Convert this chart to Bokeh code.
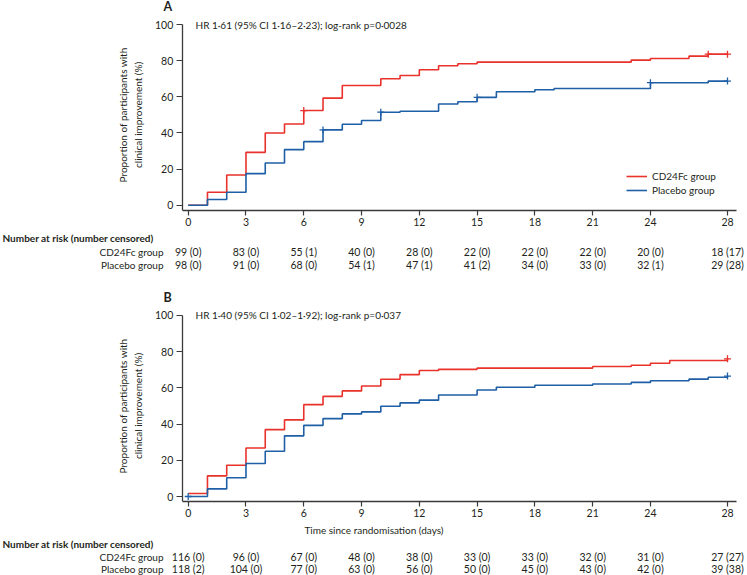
import numpy as np
from bokeh.plotting import figure
from bokeh.models import Range1d, FixedTicker
from bokeh.layouts import column
from bokeh.embed import file_html
from bokeh.resources import INLINE
from bokeh.core.properties import value

# ---------------- data ----------------
# Panel A : step curves (time in days, cumulative % with clinical improvement)
A_cd_t = [0, 1, 2, 3, 4, 5, 6, 7, 8, 10, 11, 12, 13, 14, 15, 23, 24, 26, 27, 28]
A_cd_y = [0, 7.2, 16.8, 29.3, 40.0, 45.0, 52.4, 59.3, 66.3, 70.0, 71.8, 75.0, 77.2, 78.3, 79.2, 80.3, 81.2, 82.5, 83.6, 83.6]
A_cd_cens = [6, 27, 28]
A_pl_t = [0, 1, 2, 3, 4, 5, 6, 7, 8, 9, 10, 11, 13, 14, 15, 16, 18, 19, 24, 27, 28]
A_pl_y = [0, 3.2, 7.2, 17.5, 23.4, 30.8, 35.2, 41.7, 44.8, 46.9, 51.5, 52.0, 56.0, 57.3, 59.7, 62.8, 63.9, 64.6, 67.8, 68.7, 68.7]
A_pl_cens = [7, 10, 15, 24, 28]

# Panel B
B_cd_t = [0, 1, 2, 3, 4, 5, 6, 7, 8, 9, 10, 11, 12, 13, 15, 21, 23, 24, 25, 28]
B_cd_y = [1.7, 11.4, 17.3, 26.8, 36.9, 42.3, 50.7, 55.3, 58.3, 61.0, 64.7, 67.3, 69.6, 70.2, 70.9, 71.8, 72.5, 73.6, 75.1, 76.0]
B_cd_cens = [28]
B_pl_t = [0, 1, 2, 3, 4, 5, 6, 7, 8, 9, 10, 11, 12, 13, 15, 16, 18, 21, 23, 24, 26, 27, 28]
B_pl_y = [0, 4.2, 10.4, 18.2, 25.0, 33.5, 39.3, 43.0, 45.6, 46.7, 49.8, 51.7, 53.2, 56.0, 58.8, 60.3, 61.4, 62.1, 63.0, 63.9, 64.8, 65.8, 66.5]
B_pl_cens = [0, 28]

# number-at-risk tables
x_ticks = [0, 3, 6, 9, 12, 15, 18, 21, 24, 28]
y_ticks = [0, 20, 40, 60, 80, 100]
A_cd_risk = ["99 (0)", "83 (0)", "55 (1)", "40 (0)", "28 (0)", "22 (0)", "22 (0)", "22 (0)", "20 (0)", "18 (17)"]
A_pl_risk = ["98 (0)", "91 (0)", "68 (0)", "54 (1)", "47 (1)", "41 (2)", "34 (0)", "33 (0)", "32 (1)", "29 (28)"]
B_cd_risk = ["116 (0)", "96 (0)", "67 (0)", "48 (0)", "38 (0)", "33 (0)", "33 (0)", "32 (0)", "31 (0)", "27 (27)"]
B_pl_risk = ["118 (2)", "104 (0)", "77 (0)", "63 (0)", "56 (0)", "50 (0)", "45 (0)", "43 (0)", "42 (0)", "39 (38)"]

A_stats = "HR 1·61 (95% CI 1·16–2·23); log-rank p=0·0028"
B_stats = "HR 1·40 (95% CI 1·02–1·92); log-rank p=0·037"
ylab1 = "Proportion of participants with"
ylab2 = "clinical improvement (%)"
xlab = "Time since randomisation (days)"
row_names = ["CD24Fc group", "Placebo group"]
nar_title = "Number at risk (number censored)"

# ---------------- style / geometry (pixels) ----------------
FONTNAME = "Lato"
FONT = value(FONTNAME)
FS = "10px"        # general text
FS_TICK = "10.5px"  # tick labels and table numbers
RED = "#e8322b"
BLUE = "#1f5fa6"
AXC = "#3a3a3a"
TXT = "#231f20"

W = 747
PX_T0 = 187.7                      # pixel of day 0
PPD = (727.0 - PX_T0) / 28.0       # pixels per day
TX0, TX1 = -PX_T0 / PPD, (W - PX_T0) / PPD
AX_X0, AX_X1 = -0.31, 28.45         # extent of x axis line


def px2t(px):
    return (px - PX_T0) / PPD


def step_at(ts, ys, t):
    ts = np.asarray(ts, float)
    idx = np.searchsorted(ts, t, side="right") - 1
    return np.asarray(ys, float)[idx]


def curve_fig(top, fbot, p0, p100, bottom, cd, pl, letter, stats, xlabel, legend):
    """top/fbot/p0/p100/bottom: page pixel rows of figure top, frame bottom,
    0 % line, 100 % line and figure bottom."""
    pxy = (p0 - p100) / 100.0
    ymin = -(fbot - p0) / pxy
    ytop = 100 + (p100 - top) / pxy
    py2y = lambda py: 100 + (p100 - py) / pxy
    p = figure(width=W, height=bottom - top, output_backend="svg", toolbar_location=None,
               x_range=Range1d(TX0, TX1), y_range=Range1d(ymin, ytop),
               min_border_left=0, min_border_right=0,
               min_border_top=0, min_border_bottom=bottom - fbot)
    p.outline_line_color = None
    p.xgrid.visible = False
    p.ygrid.visible = False
    for ax in (p.xaxis[0], p.yaxis[0]):
        ax.axis_line_color = AXC
        ax.axis_line_width = 1.3
        ax.major_tick_line_color = AXC
        ax.major_tick_line_width = 1.2
        ax.minor_tick_line_color = None
        ax.major_tick_in = 0
        ax.major_label_text_font = FONTNAME
        ax.major_label_text_font_size = FS_TICK
        ax.major_label_text_color = TXT
        ax.axis_label_text_font = FONTNAME
        ax.axis_label_text_font_size = FS
        ax.axis_label_text_font_style = "normal"
        ax.axis_label_text_color = TXT
    p.xaxis.ticker = FixedTicker(ticks=x_ticks)
    p.yaxis.ticker = FixedTicker(ticks=y_ticks)
    p.xaxis.bounds = (AX_X0, AX_X1)
    p.yaxis.bounds = (ymin, 100)
    p.yaxis.fixed_location = AX_X0
    p.xaxis.major_tick_out = 5
    p.yaxis.major_tick_out = 6
    p.xaxis.major_label_standoff = 2
    p.yaxis.major_label_standoff = 3
    if xlabel:
        p.xaxis.axis_label = xlabel
        p.xaxis.axis_label_standoff = 4

    # y axis title, two lines, rotated
    p.text(x=[px2t(122), px2t(137)], y=[50, 50], text=[ylab1, ylab2], angle=np.pi / 2,
           text_font=FONT, text_font_size=FS, text_color=TXT,
           text_align="center", text_baseline="middle")

    for (t, y, cens, col, name) in (cd + (RED, row_names[0]), pl + (BLUE, row_names[1])):
        kw = dict(legend_label=name) if legend else {}
        p.step(t, y, mode="after", line_color=col, line_width=1.6, **kw)
        cy = step_at(t, y, cens)
        p.scatter(cens, cy, marker="cross", size=7, line_color=col, line_width=1.3)

    if legend:
        lg = p.legend[0]
        lg.location = (626, 13)
        lg.border_line_color = None
        lg.background_fill_alpha = 0
        lg.padding = 0
        lg.margin = 0
        lg.spacing = 0
        lg.glyph_width = 21
        lg.glyph_height = 14
        lg.label_height = 14
        lg.label_standoff = 5
        lg.label_text_font = FONTNAME
        lg.label_text_font_size = FS
        lg.label_text_color = TXT

    p.text(x=[px2t(195)], y=[100], text=[stats], text_font=FONT, text_font_size=FS,
           text_color=TXT, text_baseline="middle", text_align="left")
    p.text(x=[px2t(163)], y=[py2y(p100 - 18)], text=[letter], text_font=FONT,
           text_font_size="12.5px", text_font_style="bold", text_color=TXT,
           text_baseline="middle", text_align="left")
    return p


def table_fig(top, bottom, rows_py, cd_risk, pl_risk):
    h = bottom - top
    p = figure(width=W, height=h, output_backend="svg", toolbar_location=None,
               x_range=Range1d(TX0, TX1), y_range=Range1d(h, 0),
               min_border=0, min_border_left=0, min_border_right=0,
               min_border_top=0, min_border_bottom=0)
    p.axis.visible = False
    p.grid.visible = False
    p.outline_line_color = None
    y_nar, y_cd, y_pl = [r - top for r in rows_py]
    p.text(x=[px2t(2)], y=[y_nar], text=[nar_title],
           text_font=FONT, text_font_size=FS, text_font_style="bold",
           text_color=TXT, text_baseline="middle", text_align="left")
    p.text(x=[px2t(163)] * 2, y=[y_cd, y_pl], text=row_names,
           text_font=FONT, text_font_size=FS, text_color=TXT,
           text_baseline="middle", text_align="right")
    p.text(x=x_ticks, y=[y_cd] * len(x_ticks), text=cd_risk, text_font=FONT,
           text_font_size=FS_TICK, text_color=TXT, text_baseline="middle", text_align="center")
    p.text(x=x_ticks, y=[y_pl] * len(x_ticks), text=pl_risk, text_font=FONT,
           text_font_size=FS_TICK, text_color=TXT, text_baseline="middle", text_align="center")
    return p


figA = curve_fig(0, 210, 204.8, 24, 230, (A_cd_t, A_cd_y, A_cd_cens), (A_pl_t, A_pl_y, A_pl_cens),
                 "A", A_stats, None, True)
tabA = table_fig(230, 285, (237, 251.7, 264), A_cd_risk, A_pl_risk)
figB = curve_fig(285, 502, 497, 315, 538, (B_cd_t, B_cd_y, B_cd_cens), (B_pl_t, B_pl_y, B_pl_cens),
                 "B", B_stats, xlab, False)
tabB = table_fig(538, 575, (543, 556, 568.5), B_cd_risk, B_pl_risk)

layout = column(figA, tabA, figB, tabB, spacing=0)
open("out.html", "w").write(file_html(layout, INLINE))
